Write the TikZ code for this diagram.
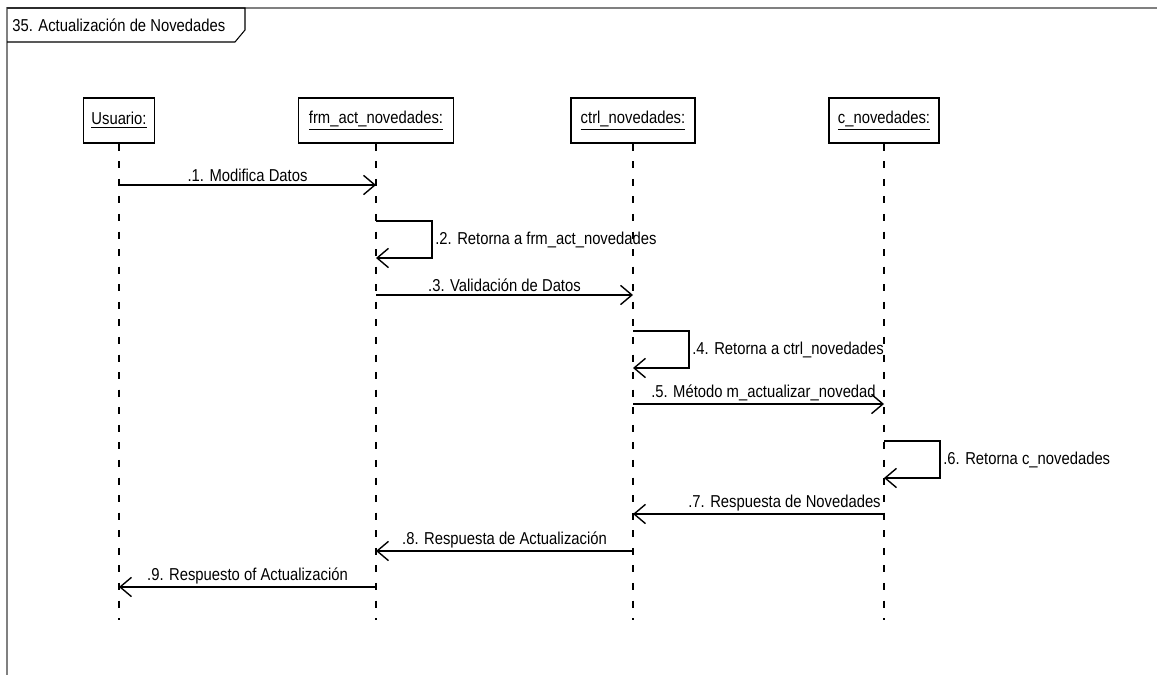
\documentclass[tikz,border=0pt]{standalone}
\usepackage{fontspec}
\setmainfont{Liberation Sans}[FakeStretch=0.86]
\usetikzlibrary{
  arrows.meta, % For arrow tips
  calc
}

\begin{document}
\begin{tikzpicture}[
      x=0.02cm, y=-0.02cm, % Pixel grid, y downwards
      font=\fontsize{9.8}{11}\selectfont,
      >={Straight Barb[length=6.5pt, width=11pt]}, % Default arrow tip
      obj/.style={draw, line width=0.8pt, minimum height=0.9cm, inner sep=2pt}, % Lifeline heads
      lifeline/.style={line width=0.6pt, dash pattern=on 4pt off 6pt}, % Dashed lifelines
      msg/.style={line width=0.8pt, ->}, % Messages
      lbl/.style={inner sep=1.5pt}, % Message labels
    ]

    \useasboundingbox (0,0) rectangle (1157,675);

    % Rahmen
    \draw[gray, line width=0.8pt] (7,675) |- (1157,8);
    \node[anchor=west, inner sep=0pt] (title) at (12,25) {35. Actualización de Novedades};
    \draw[line width=0.6pt] (7,8) -- (245,8) -- (245,30) -- (235,42) -- (7,42);

    % Objekte
    \node[obj, minimum width=1.42cm] (u) at (119,120.5) {\underline{Usuario:}};
    \node[obj, minimum width=3.1cm] (frm) at (376,120.5) {\underline{frm\_act\_novedades:}};
    \node[obj, minimum width=2.48cm] (ctrl) at (633,120.5) {\underline{ctrl\_novedades:}};
    \node[obj, minimum width=2.2cm] (cnov) at (884,120.5) {\underline{c\_novedades:}};

    % Lebenslinien
    \foreach \o in {u, frm, ctrl, cnov} {
      \coordinate (\o end) at (\o.south |- 0,620);
      \draw[lifeline] (\o.south) -- (\o end);
    }

    % Nachrichten
    \foreach \a/\b/\yy/\n/\dx/\txt in {
        u/frm/185/1/0/{.1. Modifica Datos},
        frm/ctrl/295/3/0/{.3. Validación de Datos},
        ctrl/cnov/404/5/5/{.5. Método m\_actualizar\_novedad},
        cnov/ctrl/514/7/26/{.7. Respuesta de Novedades},
        ctrl/frm/551/8/0/{.8. Respuesta de Actualización},
        frm/u/587/9/0/{.9. Respuesto of Actualización}} {
      \coordinate (m\n a) at (\a.south |- 0,\yy);
      \coordinate (m\n b) at (\b.south |- 0,\yy);
      \draw[msg] (m\n a) -- (m\n b)
      node[midway, above, lbl, xshift=\dx*0.02cm] {\txt};
    }

    % Selbstaufrufe
    \foreach \o/\yy/\n/\txt in {
        frm/221/2/{.2. Retorna a frm\_act\_novedades},
        ctrl/331/4/{.4. Retorna a ctrl\_novedades},
        cnov/441/6/{.6. Retorna c\_novedades}} {
      \coordinate (s\n a) at (\o.south |- 0,\yy);
      \coordinate (s\n b) at (\o.south |- 0,\yy+37);
      \draw[msg] (s\n a) -- ++(56,0) |- (s\n b)
      node[pos=0.25, right, lbl] {\txt};
    }

  \end{tikzpicture}
\end{document}
